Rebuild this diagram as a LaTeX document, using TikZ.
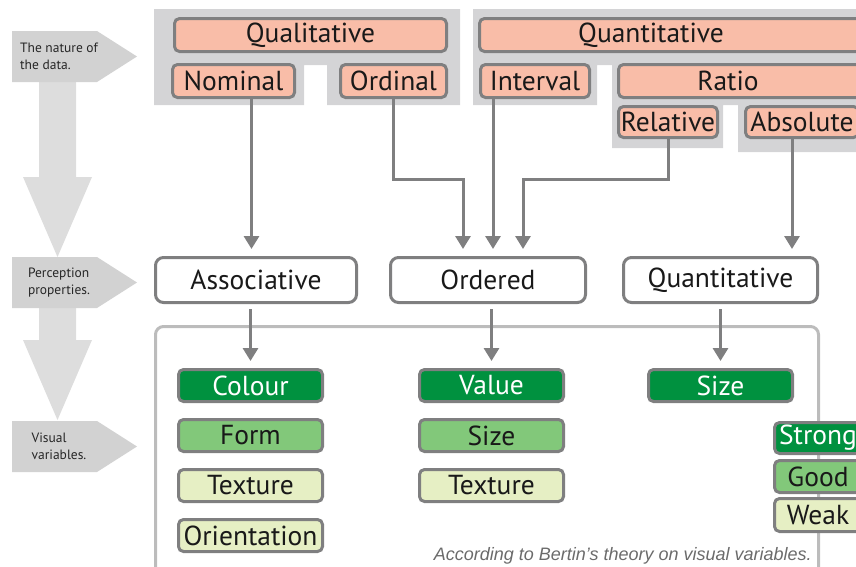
\documentclass[tikz,border=0pt]{standalone}
\usepackage{fontspec}
\setmainfont{PT Sans}
\newfontfamily\notefont{Liberation Sans}
\usetikzlibrary{arrows.meta}

\definecolor{panelgray}{HTML}{D4D4D6}
\definecolor{stepgray}{HTML}{D2D2D2}
\definecolor{flowgray}{HTML}{DDDDDD}
\definecolor{edgegray}{HTML}{7F7F80}
\definecolor{framegray}{HTML}{BCBCBC}
\definecolor{notegray}{HTML}{6B6B6B}
\definecolor{salmon}{HTML}{F9BDA8}
\definecolor{strongGreen}{HTML}{00913F}
\definecolor{goodGreen}{HTML}{82C87A}
\definecolor{weakGreen}{HTML}{E6EFC4}

\tikzset{
  boxtext/.style={font=\fontsize{27.5}{29}\selectfont, text=black!90, inner sep=0pt},
  box/.style={boxtext, draw=edgegray, line width=3pt, rounded corners=5pt},
  datbox/.style={box, fill=salmon, minimum height=33pt},
  propbox/.style={box, fill=white, rounded corners=8pt, minimum height=45pt},
  varbox/.style={box, minimum width=144pt, minimum height=32pt},
  strongvar/.style={varbox, fill=strongGreen, text=white},
  goodvar/.style={varbox, fill=goodGreen},
  weakvar/.style={varbox, fill=weakGreen},
  conn/.style={draw=edgegray, line width=3pt, -{Triangle[length=13pt,width=15pt]}, shorten >=7pt},
  steplabel/.style={font=\fontsize{13.5}{17}\selectfont, align=left, text=black!85, inner sep=0pt}
}

\begin{document}
\begin{tikzpicture}[x=1pt, y=-1pt]
\useasboundingbox (0,0) rectangle (856,566);

% grey panels behind the kinds of data
\fill[panelgray] (154,9) -- (460,9) -- (460,105) -- (327,105) -- (327,65) -- (304,65) -- (304,105) -- (154,105) -- cycle;
\fill[panelgray] (473,9) -- (870,9) -- (870,152) -- (738,152) -- (738,105) -- (723,105) -- (723,148) -- (612,148) -- (612,65) -- (597,65) -- (597,105) -- (473,105) -- cycle;

% big arrows and steps on the left
\fill[flowgray] (39,82) -- (39,177) -- (23,177) -- (57.5,257) -- (92,177) -- (76,177) -- (76,82) -- cycle;
\fill[flowgray] (39,308) -- (39,340) -- (23,340) -- (57.5,420) -- (92,340) -- (76,340) -- (76,308) -- cycle;
\foreach \y in {31,257,421}
  \fill[stepgray] (12,\y) -- (97,\y) -- (137,\y+25.5) -- (97,\y+51) -- (12,\y+51) -- cycle;

\node[steplabel] (nature) at (59,56.5) {The nature of\\the data.};
\node[steplabel] (percept) at (59,282.5) {Perception\\properties.};
\node[steplabel] (visual) at (59,446.5) {Visual\\variables.};

% frame round the visual variables
\draw[framegray, line width=3pt, rounded corners=8pt] (155.5,326.5) rectangle (818.5,600);

% kinds of data
\node[datbox, minimum width=272pt] (qual) at (310.5,35) {Qualitative};
\node[datbox, minimum width=122pt] (nominal) at (233.5,81) {Nominal};
\node[datbox, minimum width=106pt] (ordinal) at (393.5,81) {Ordinal};
\node[datbox, minimum width=389pt] (quant) at (674,35) {};
\node[boxtext] (quanttext) at (651,35) {Quantitative};
\node[datbox, minimum width=109pt] (interval) at (535,81) {Interval};
\node[datbox, minimum width=250pt] (ratio) at (743.5,81) {};
\node[boxtext] (ratiotext) at (728,81) {Ratio};
\node[datbox, minimum width=99pt, minimum height=31pt] (relative) at (668,122) {Relative};
\node[datbox, minimum width=113pt, minimum height=31pt] (absolute) at (802,122) {Absolute};

% perception properties
\node[propbox, minimum width=201pt] (assoc) at (256,280) {Associative};
\node[propbox, minimum width=195pt] (ordered) at (488,280) {Ordered};
\node[propbox, minimum width=194pt] (quanti) at (720.5,280) {Quantitative};

% visual variables
\node[strongvar] (colour) at (250.5,385.5) {Colour};
\node[goodvar] (form) at (250.5,435.5) {Form};
\node[weakvar] (texture) at (250.5,485.5) {Texture};
\node[weakvar] (orient) at (250.5,535.5) {Orientation};
\node[strongvar] (value) at (491.5,385.5) {Value};
\node[goodvar] (sizeord) at (491.5,435.5) {Size};
\node[weakvar] (textureord) at (491.5,485.5) {Texture};
\node[strongvar] (sizequant) at (720.5,385.5) {Size};

% legend
\node[strongvar, minimum width=87pt, minimum height=31pt] (strong) at (818,438) {Strong};
\node[goodvar, minimum width=87pt, minimum height=32pt] (good) at (818,476.5) {Good};
\node[weakvar, minimum width=87pt, minimum height=33pt] (weak) at (818,515) {Weak};

\node[anchor=base east, inner sep=0pt, text=notegray, font=\notefont\itshape\fontsize{18}{20}\selectfont] (note) at (812,560) {According to Bertin’s theory on visual variables.};

% connectors
\draw[conn] ([xshift=18pt]nominal.south) -- ([xshift=18pt]nominal.south |- assoc.north);
\draw[conn] (ordinal.south) -- ++(0,80) -| ([xshift=-25pt]ordered.north);
\draw[conn] ([xshift=-42pt]interval.south) -- ([xshift=-42pt]interval.south |- ordered.north);
\draw[conn] (relative.south) -- ++(0,40) -| ([xshift=35pt]ordered.north);
\draw[conn] ([xshift=-10pt]absolute.south) -- ([xshift=-10pt]absolute.south |- quanti.north);

\draw[conn, shorten <=5pt] (assoc.south -| colour.north) -- (colour.north);
\draw[conn, shorten <=5pt] (ordered.south -| value.north) -- (value.north);
\draw[conn, shorten <=5pt] (quanti.south -| sizequant.north) -- (sizequant.north);

\end{tikzpicture}
\end{document}
